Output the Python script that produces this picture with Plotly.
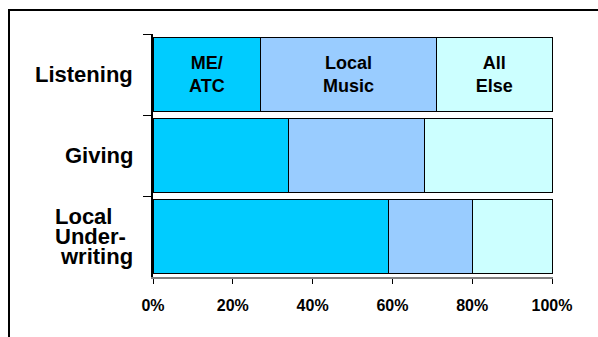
import plotly.graph_objects as go

categories = ["Listening", "Giving", "Local Underwriting"]
label_lines = [["Listening"], ["Giving"], ["Local", "Under-", "writing"]]
series_names = ["ME/ATC", "Local Music", "All Else"]
me_atc = [27, 34, 59]
local_music = [44, 34, 21]
all_else = [29, 32, 20]
bar_labels = ["ME/<br>ATC", "Local<br>Music", "All<br>Else"]
colors = ["#00CCFF", "#99CCFF", "#CCFFFF"]
x_ticks = [0, 20, 40, 60, 80, 100]

FONT = "Liberation Sans, Arial, sans-serif"

fig = go.Figure()
for name, vals, lab, col in zip(series_names, [me_atc, local_music, all_else], bar_labels, colors):
    fig.add_trace(go.Bar(
        y=categories, x=vals, name=name, orientation="h",
        marker=dict(color=col, line=dict(color="black", width=1)),
        text=[lab, "", ""], textposition="inside", insidetextanchor="middle",
        textangle=0, constraintext="none", cliponaxis=False,
        insidetextfont=dict(family=FONT, size=18, color="black", weight="bold"),
        hoverinfo="skip",
    ))

# plot area geometry (pixels)
L, R, T, B = 153, 45, 34, 60
W = 598 - L - R
H = 337 - T - B
X_MAX = 100.25

def px_x(p):
    return (p - L) / W

def px_y(p):
    return (337 - B - p) / H

annotations = []
for cat, lines in zip(categories, label_lines):
    n = len(lines)
    for i, line in enumerate(lines):
        shift = ((n - 1) / 2 - i) * 20
        if n > 1 and i < n - 1:
            ax, anchor = px_x(53), "left"
        else:
            ax, anchor = px_x(135), "right"
        annotations.append(dict(
            x=ax, xref="paper", y=cat, yref="y", text=line, showarrow=False,
            xanchor=anchor, yanchor="middle", yshift=shift,
            font=dict(family=FONT, size=22, color="black", weight="bold"),
        ))

fig.update_layout(
    barmode="stack",
    bargap=0.09,
    width=598, height=337,
    margin=dict(l=L, r=R, t=T, b=B, pad=0),
    paper_bgcolor="white", plot_bgcolor="white",
    showlegend=False,
    annotations=annotations,
    shapes=[dict(type="rect", xref="paper", yref="paper",
                 x0=px_x(9), x1=1.3, y0=-0.5, y1=px_y(10),
                 line=dict(color="black", width=2), fillcolor="rgba(0,0,0,0)",
                 layer="below")],
    xaxis=dict(range=[0, X_MAX], tickvals=x_ticks, ticktext=[f"{v}%" for v in x_ticks],
               ticks="outside", ticklen=5, tickwidth=1, tickcolor="black",
               ticklabelstandoff=8,
               showline=True, linecolor="#808080", linewidth=2,
               showgrid=False, zeroline=False,
               tickfont=dict(family=FONT, size=16, color="black", weight="bold")),
    yaxis=dict(autorange="reversed", showticklabels=False,
               ticks="outside", ticklen=8, tickwidth=1, tickcolor="black",
               tickson="boundaries",
               showline=True, linecolor="black", linewidth=1.5,
               showgrid=False, zeroline=False),
)

fig.write_html("out.html")
